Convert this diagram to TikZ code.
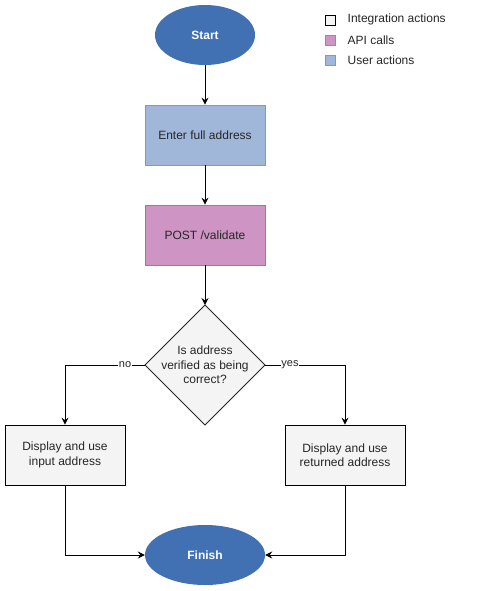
\documentclass[tikz,border=0pt]{standalone}
\usepackage{fontspec}
\setmainfont{Liberation Sans}
\usetikzlibrary{shapes.geometric,arrows.meta}
\definecolor{ellfill}{RGB}{65,112,179}
\definecolor{bluefill}{RGB}{161,183,218}
\definecolor{bluedraw}{RGB}{125,153,200}
\definecolor{pinkfill}{RGB}{205,148,196}
\definecolor{pinkdraw}{RGB}{176,110,160}
\definecolor{grayfill}{RGB}{244,244,244}
\tikzset{
  ellnode/.style={ellipse, fill=ellfill, draw=none, minimum width=100pt, minimum height=60pt, inner sep=0pt, text=white, font=\fontsize{12}{14}\selectfont\bfseries},
  bigell/.style={ellnode, minimum width=120pt},
  userbox/.style={rectangle, fill=bluefill, draw=bluedraw, line width=0.8pt, minimum width=120pt, minimum height=60pt, font=\fontsize{12}{14}\selectfont, text=black!85},
  apibox/.style={rectangle, fill=pinkfill, draw=pinkdraw, line width=0.8pt, minimum width=120pt, minimum height=60pt, font=\fontsize{12}{14}\selectfont, text=black!85},
  intbox/.style={rectangle, fill=grayfill, draw=black, line width=0.8pt, minimum width=120pt, minimum height=60pt, align=center, font=\fontsize{12}{14.5}\selectfont, text=black!85},
  decision/.style={diamond, fill=grayfill, draw=black!85, line width=0.8pt, minimum width=120pt, minimum height=120pt, inner sep=0pt, outer sep=0pt},
  dectext/.style={align=center, inner sep=0pt, font=\fontsize{12}{14.5}\selectfont, text=black!85},
  conn/.style={draw=black, line width=0.9pt, -{Stealth[length=7pt,width=7pt,inset=2.5pt]}},
  edgelab/.style={fill=white, inner sep=0.5pt, font=\fontsize{11}{13}\selectfont, text=black!85},
  legbox/.style={rectangle, minimum width=10pt, minimum height=10pt, inner sep=0pt, line width=0.8pt},
  legtext/.style={anchor=west, inner sep=0pt, font=\fontsize{12}{14}\selectfont, text=black!85},
}
\begin{document}
\begin{tikzpicture}[x=1pt,y=-1pt]
\useasboundingbox[fill=white] (0,0) rectangle (481,591);
\node[ellnode] (start) at (205,35) {Start};
\node[userbox] (enter) at (205,135) {Enter full address};
\node[apibox] (post) at (205,235) {POST /validate};
\node[decision] (dec) at (205,365) {};
\node[dectext] (dect) at (205,365) {Is address\\verified as being\\correct?};
\node[intbox] (inp) at (65,455) {Display and use\\input address};
\node[intbox] (ret) at (345,455) {Display and use\\returned address};
\node[bigell] (fin) at (205,555) {Finish};
\coordinate (nocorner) at (65,365);
\coordinate (yescorner) at (345,365);
\coordinate (lcorner) at (65,555);
\coordinate (rcorner) at (345,555);
\draw[conn] (start) -- (enter);
\draw[conn] (enter) -- (post);
\draw[conn] (post) -- (dec);
\draw[conn] (dec.west) -- (nocorner) -- (inp.north);
\draw[conn] (dec.east) -- (yescorner) -- (ret.north);
\node[edgelab] (nolab) at (125,365) {no};
\node[edgelab] (yeslab) at (290,365) {yes};
\draw[conn] (inp.south) -- (lcorner) -- (fin.west);
\draw[conn] (ret.south) -- (rcorner) -- (fin.east);
% legend
\node[legbox, fill=grayfill, draw=black] (l1) at (330.5,20) {};
\node[legbox, fill=pinkfill, draw=pinkfill!85!black] (l2) at (330.5,40.5) {};
\node[legbox, fill=bluefill, draw=bluedraw] (l3) at (330.5,60.5) {};
\node[legtext] (t1) at (347.5,19.5) {Integration actions};
\node[legtext] (t2) at (347.5,40) {API calls};
\node[legtext] (t3) at (347.5,60) {User actions};
\end{tikzpicture}
\end{document}
